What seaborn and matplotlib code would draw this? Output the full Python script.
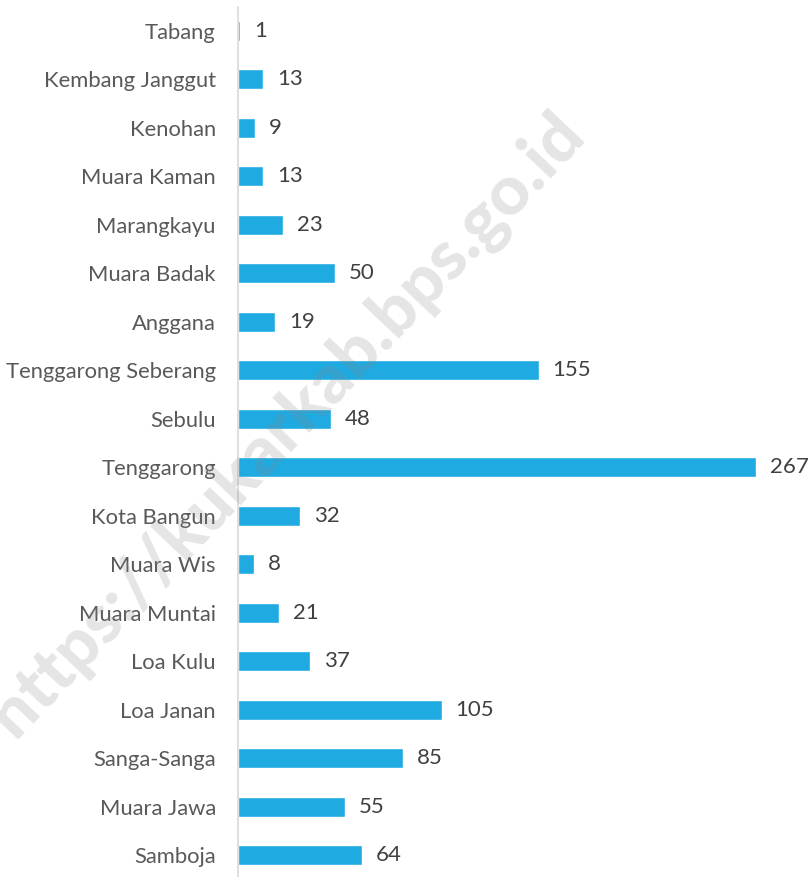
import pandas as pd
import matplotlib
matplotlib.use('Agg')
import matplotlib.pyplot as plt
import seaborn as sns

# data
kecamatan = ['Tabang', 'Kembang Janggut', 'Kenohan', 'Muara Kaman', 'Marangkayu',
             'Muara Badak', 'Anggana', 'Tenggarong Seberang', 'Sebulu', 'Tenggarong',
             'Kota Bangun', 'Muara Wis', 'Muara Muntai', 'Loa Kulu', 'Loa Janan',
             'Sanga-Sanga', 'Muara Jawa', 'Samboja']
jumlah = [1, 13, 9, 13, 23, 50, 19, 155, 48, 267, 32, 8, 21, 37, 105, 85, 55, 64]

df = pd.DataFrame({'kecamatan': kecamatan, 'jumlah': jumlah})

sns.set_style('white')
plt.rcParams['font.family'] = ['Lato', 'DejaVu Sans']

fig = plt.figure(figsize=(8.11, 8.77), dpi=100)
ax = fig.add_axes([238 / 811, -0.0026, (800 - 238) / 811, 0.995])

sns.barplot(data=df, x='jumlah', y='kecamatan', orient='h', color='#1FAAE1',
            width=0.41, saturation=1, ax=ax)

ax.bar_label(ax.containers[0], padding=10, fontsize=16, color='#404040')

ax.set_xlim(0, (800 - 238) / 1.94)
ax.set_ylim(17.5, -0.5)
ax.set_xlabel('')
ax.set_ylabel('')
ax.set_xticks([])
ax.tick_params(axis='y', length=0, pad=16, labelsize=15.8, labelcolor='#595959')

for s in ['top', 'right', 'bottom']:
    ax.spines[s].set_visible(False)
ax.spines['left'].set_color('#D9D9D9')
ax.spines['left'].set_linewidth(1.2)

# watermark
fig.text(0.355, 0.515, 'https://kukarkab.bps.go.id', fontsize=50, fontweight='black',
         color='#888888', alpha=0.22, rotation=46.5, ha='center', va='center',
         zorder=10)

fig.savefig('out.png', dpi=100)
